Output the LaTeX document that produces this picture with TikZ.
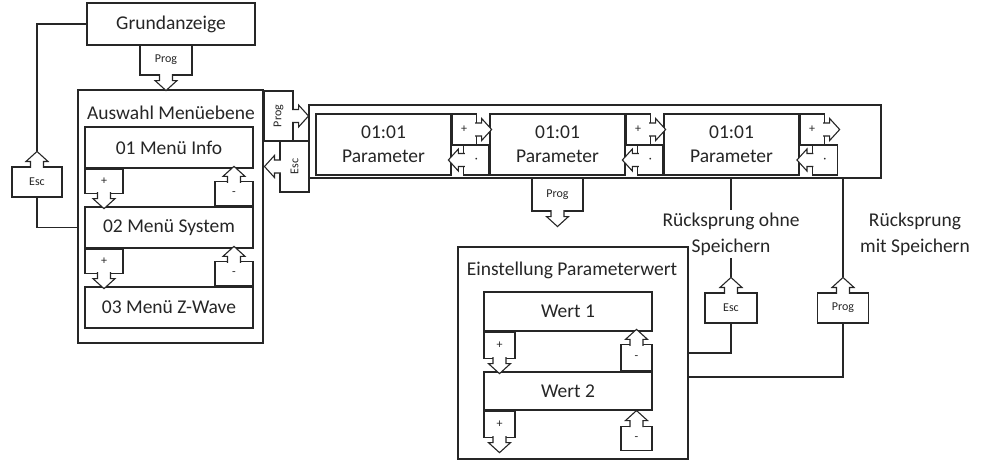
\documentclass[tikz,border=0pt]{standalone}
\usepackage{fontspec}
\setmainfont{Carlito}
\usepackage{graphicx}
\usetikzlibrary{positioning, calc}
\definecolor{menuink}{HTML}{262626}

\begin{document}
\begin{tikzpicture}[
    x=1pt, y=-1pt, line width=1.1pt, color=menuink,
    box/.style={draw,fill=white,align=center,inner sep=0pt,font=\fontsize{19.5}{24}\selectfont},
    frame/.style={draw,inner sep=0pt},
    key/.style={draw,fill=white,inner sep=0pt,font=\fontsize{12}{14}\selectfont},
    lbl/.style={align=center,inner sep=2pt,font=\fontsize{19.5}{26}\selectfont},
    keyarrow/.pic={
      \draw[fill=white] (-6.5,-1.5) -- (-6.5,5) -- (-11,5) -- (0,15) -- (11,5) -- (6.5,5) -- (6.5,-1.5);
      \coordinate (-tip) at (0,15);
    },
  ]
    \useasboundingbox (0,0) rectangle (986,461);

    % Grundanzeige und Auswahl Menuebene
    \node[box, minimum width=168pt, minimum height=42pt] (grund) at (171,24) {Grundanzeige};
    \node[frame, minimum width=185pt, minimum height=253pt] (ausw) at (170.5,216.5) {};
    \node[lbl, anchor=base] (auswlbl) at (171,119) {Auswahl Menüebene};
    \node[box, minimum width=168pt, minimum height=41pt] (menu1) at (169,147.5) {01 Menü Info};
    \node[box, minimum width=168pt, minimum height=41pt] (menu2) at (169,227.5) {02 Menü System};
    \node[box, minimum width=168pt, minimum height=41pt] (menu3) at (169,307.5) {03 Menü Z-Wave};

    \node[key, minimum width=38pt, minimum height=24pt, below right=0pt and 0pt of menu1.south west] (m1plus) {+};
    \node[key, minimum width=38pt, minimum height=24pt, above left=0pt and 0pt of menu2.north east] (m2minus) {-};
    \node[key, minimum width=38pt, minimum height=24pt, below right=0pt and 0pt of menu2.south west] (m2plus) {+};
    \node[key, minimum width=38pt, minimum height=24pt, above left=0pt and 0pt of menu3.north east] (m3minus) {-};
    \pic (m1plus) at (m1plus.south) {keyarrow};
    \pic[rotate=180] (m2minus) at (m2minus.north) {keyarrow};
    \pic (m2plus) at (m2plus.south) {keyarrow};
    \pic[rotate=180] (m3minus) at (m3minus.north) {keyarrow};

    \node[key, minimum width=52pt, minimum height=30pt] (gprog) at (166,60) {Prog};
    \pic (gprog) at (gprog.south) {keyarrow};
    \node[key, minimum width=50pt, minimum height=30pt] (aesc) at (37,182) {Esc};
    \pic[rotate=180] (aesc) at (aesc.north) {keyarrow};
    \draw (aesc-tip) |- (grund.west);
    \draw (aesc.south) |- (menu2.west -| ausw.west);

    % Parameter
    \node[frame, minimum width=572pt, minimum height=73pt] (pframe) at (595,141.5) {};
    \node[key, minimum width=29pt, minimum height=50pt] (aprog) at (278.5,116) {\rotatebox{90}{Prog}};
    \pic[rotate=90] (aprog) at (aprog.east) {keyarrow};
    \node[key, minimum width=29pt, minimum height=51pt] (pesc) at (294.5,166.5) {\rotatebox{90}{Esc}};
    \pic[rotate=-90] (pesc) at (pesc.west) {keyarrow};

    \node[box, minimum width=135pt, minimum height=61pt] (par1) at (383.5,144.5) {01:01\\Parameter};
    \node[box, minimum width=135pt, minimum height=61pt] (par2) at (557.5,144.5) {01:01\\Parameter};
    \node[box, minimum width=135pt, minimum height=61pt] (par3) at (731.5,144.5) {01:01\\Parameter};

    \node[key, minimum width=24pt, minimum height=31pt, below right=0pt and 0pt of par1.north east] (p1plus) {+};
    \node[key, minimum width=25pt, minimum height=30pt, above left=0pt and 0pt of par2.south west] (p2minus) {·};
    \node[key, minimum width=24pt, minimum height=31pt, below right=0pt and 0pt of par2.north east] (p2plus) {+};
    \node[key, minimum width=25pt, minimum height=30pt, above left=0pt and 0pt of par3.south west] (p3minus) {·};
    \node[key, minimum width=24pt, minimum height=31pt, below right=0pt and 0pt of par3.north east] (p3plus) {+};
    \node[key, minimum width=25pt, minimum height=30pt] (p4minus) at (825,160) {·};
    \foreach \k in {p1plus,p2plus,p3plus} \pic[rotate=90] (\k) at (\k.east) {keyarrow};
    \foreach \k in {p2minus,p3minus,p4minus} \pic[rotate=-90] (\k) at (\k.west) {keyarrow};

    \node[key, minimum width=51pt, minimum height=33pt] (pprog) at (557.5,194.5) {Prog};
    \pic (pprog) at (pprog.south) {keyarrow};

    % Ruecksprung
    \node[lbl] (ohne) at (731,234) {Rücksprung ohne\\Speichern};
    \node[lbl] (mit) at (915,234) {Rücksprung\\mit Speichern};
    \node[key, minimum width=52pt, minimum height=30pt] (resc) at (731,308) {Esc};
    \pic[rotate=180] (resc) at (resc.north) {keyarrow};
    \node[key, minimum width=51pt, minimum height=30pt] (rprog) at (843,308) {Prog};
    \pic[rotate=180] (rprog) at (rprog.north) {keyarrow};
    \draw (ohne) -- (ohne |- pframe.south);
    \draw (resc-tip) -- (ohne);
    \draw (rprog-tip) -- (rprog-tip |- pframe.south);

    % Einstellung Parameterwert
    \node[frame, minimum width=230pt, minimum height=212pt] (einst) at (573,353) {};
    \node[lbl, anchor=base] (einstlbl) at (572,275) {Einstellung Parameterwert};
    \node[box, minimum width=168pt, minimum height=39pt] (wert1) at (568,311.5) {Wert 1};
    \node[box, minimum width=168pt, minimum height=38pt] (wert2) at (568,391) {Wert 2};
    \node[key, minimum width=31pt, minimum height=26pt, below right=0pt and 0pt of wert1.south west] (w1plus) {+};
    \node[key, minimum width=31pt, minimum height=26pt, above left=0pt and 0pt of wert2.north east] (w2minus) {-};
    \node[key, minimum width=31pt, minimum height=26pt, below right=0pt and 0pt of wert2.south west] (w2plus) {+};
    \node[key, minimum width=31pt, minimum height=24pt, below left=15pt and 0pt of wert2.south east] (w3minus) {-};
    \pic (w1plus) at (w1plus.south) {keyarrow};
    \pic (w2plus) at (w2plus.south) {keyarrow};
    \pic[rotate=180] (w2minus) at (w2minus.north) {keyarrow};
    \pic[rotate=180] (w3minus) at (w3minus.north) {keyarrow};

    \draw (resc.south) |- (einst.east);
    \draw (rprog.south) |- ([yshift=-24pt]einst.east);
  \end{tikzpicture}
\end{document}
